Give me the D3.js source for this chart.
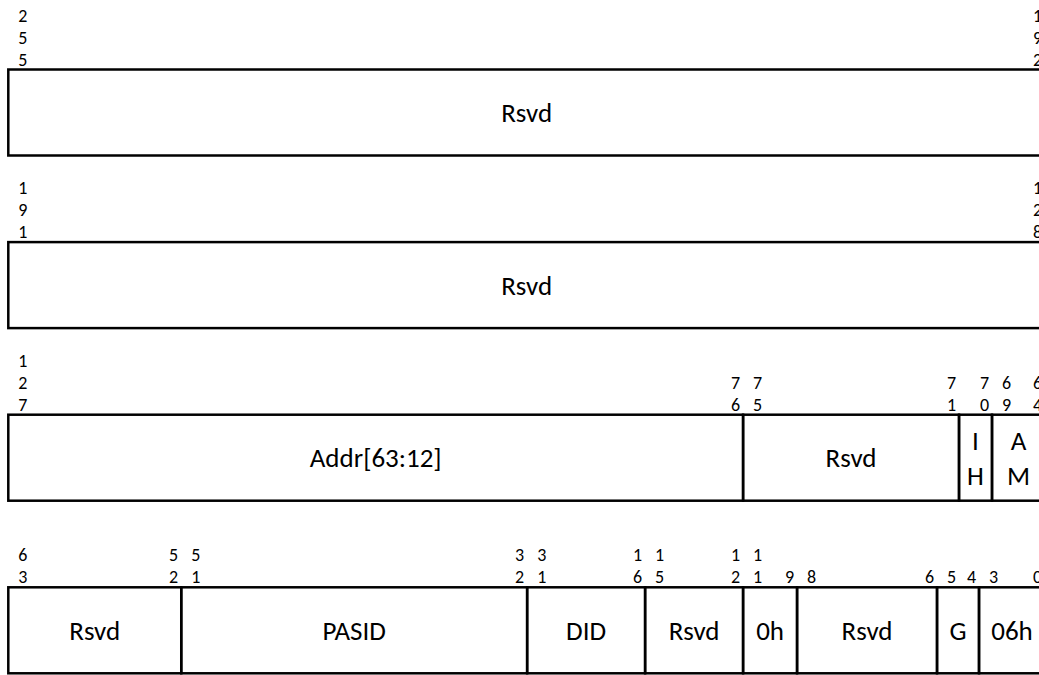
<!DOCTYPE html>
<html>
<head>
<meta charset="utf-8">
<script src="https://cdn.jsdelivr.net/npm/d3@7"></script>
<style>
  html, body { margin: 0; padding: 0; background: #fff; overflow: hidden; }
  svg { display: block; }
  text { font-family: Calibri, Carlito, Lato, sans-serif; fill: #000; }
</style>
</head>
<body>
<svg id="chart" width="1039" height="675"></svg>
<script>
// descriptor rows, top to bottom (bits 255..0)
var rowIds = [0, 1, 2, 3]

// one entry per field
var fieldRow = [0, 1, 2, 2, 2, 2, 3, 3, 3, 3, 3, 3, 3, 3]
var fieldHi = [255, 191, 127, 75, 70, 69, 63, 51, 31, 15, 11, 8, 5, 3]
var fieldLo = [192, 128, 76, 71, 70, 64, 52, 32, 16, 12, 9, 6, 4, 0]
var fieldNames = ['Rsvd', 'Rsvd', 'Addr[63:12]', 'Rsvd', 'I\nH', 'A\nM',
  'Rsvd', 'PASID', 'DID', 'Rsvd', '0h', 'Rsvd', 'G', '06h']
// relative share of the row each field takes in the drawing
var fieldShare = [1037, 1037, 735, 216, 33, 53, 173, 346, 118, 98, 54, 140, 42, 66]

var svg = d3.select('#chart')
var margin = {top: 69.5, left: 8.3}
var rowH = 86
var rowStep = 172.6
var rowRight = 1045

var y = d3.scaleLinear()
  .domain([0, 1])
  .range([margin.top, margin.top + rowStep])

var fields = fieldRow.map(function (r, i) {
  return {row: r, hi: fieldHi[i], lo: fieldLo[i], name: fieldNames[i], share: fieldShare[i]}
})

rowIds.forEach(function (r) {
  var rf = fields.filter(function (f) { return f.row === r })
  var total = d3.sum(rf, function (f) { return f.share })
  var x = d3.scaleLinear().domain([0, total]).range([margin.left, rowRight])
  var acc = 0
  rf.forEach(function (f) {
    f.x0 = x(acc)
    acc += f.share
    f.x1 = x(acc)
  })

  var top = y(r)
  var g = svg.append('g')

  // field boxes
  g.selectAll('rect')
    .data(rf)
    .enter().append('rect')
    .attr('x', function (f) { return f.x0 })
    .attr('y', top)
    .attr('width', function (f) { return f.x1 - f.x0 })
    .attr('height', rowH)
    .attr('fill', 'none')
    .attr('stroke', '#000')
    .attr('stroke-width', 2.5)

  // field names (multi-line names centred round the single-line baseline)
  rf.forEach(function (f) {
    var lines = f.name.split('\n')
    var base = top + rowH / 2 + 9.5
    var t = g.append('text')
      .attr('text-anchor', 'middle')
      .attr('font-size', 27)
    lines.forEach(function (ln, k) {
      t.append('tspan')
        .attr('x', (f.x0 + f.x1) / 2)
        .attr('y', base + (k - (lines.length - 1) / 2) * 35)
        .text(ln)
    })
  })

  // bit numbers, one digit per line, bottom aligned on the box
  function bitLabel (n, xPos, anchor) {
    var digits = String(n).split('')
    digits.forEach(function (d, k) {
      g.append('text')
        .attr('x', xPos)
        .attr('y', top - 4 - (digits.length - 1 - k) * 22)
        .attr('text-anchor', anchor)
        .attr('font-size', 18)
        .text(d)
    })
  }
  rf.forEach(function (f) {
    if (f.hi !== f.lo) bitLabel(f.hi, f.x0 + 10, 'start')
    bitLabel(f.lo, f.x1 - 3, 'end')
  })
})
</script>
</body>
</html>
